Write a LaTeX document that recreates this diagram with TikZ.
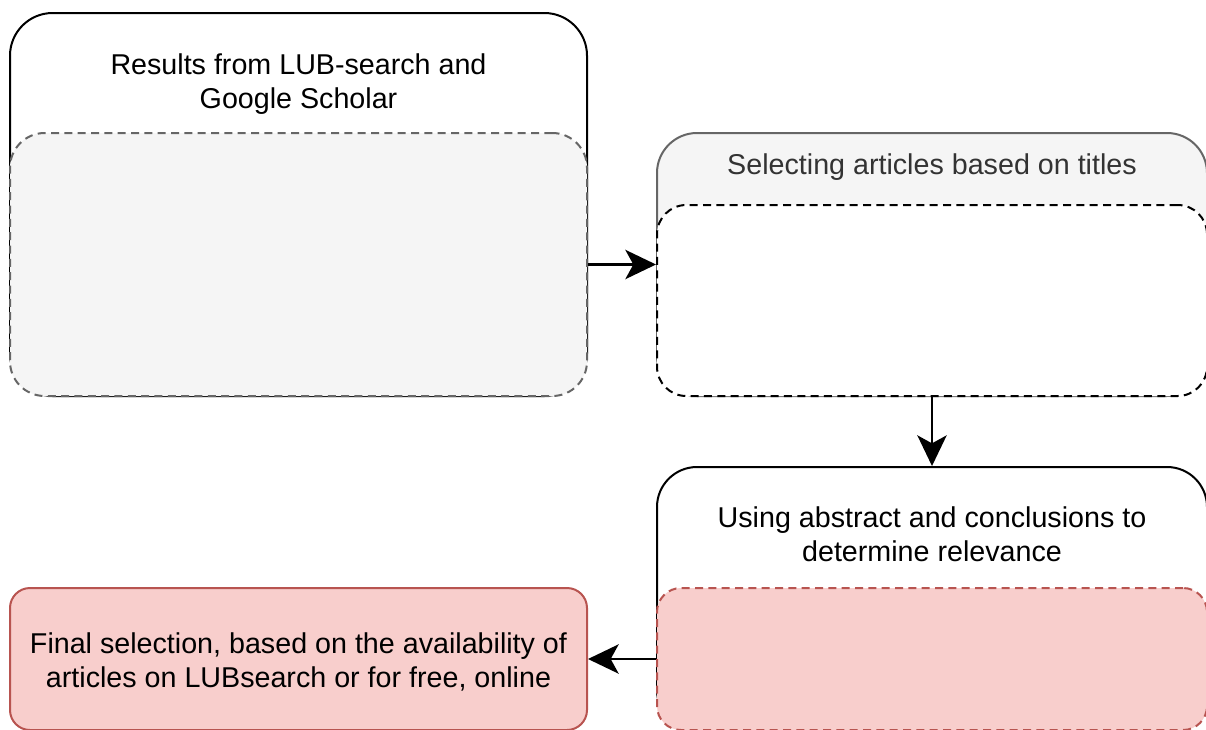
\documentclass[tikz,border=0pt]{standalone}
\usepackage{fontspec}
\setmainfont{Liberation Sans}
\usetikzlibrary{arrows.meta}

\definecolor{paleGray}{HTML}{F5F5F5}
\definecolor{midGray}{HTML}{666666}
\definecolor{darkText}{HTML}{333333}
\definecolor{paleRed}{HTML}{F8CECC}
\definecolor{darkRed}{HTML}{B85450}

\begin{document}
\begin{tikzpicture}[x=0.75pt,y=-0.75pt,
  box/.style={draw,rectangle,line width=1.5pt,inner sep=0pt,fill=white},
  wide/.style={minimum width=432.75pt},
  narrow/.style={minimum width=412.5pt},
  dashedbox/.style={box,dash pattern=on 6pt off 4pt},
  caption/.style={font=\fontsize{21.5}{25.5}\selectfont,align=center},
  flow/.style={line width=1.6pt,-{Stealth[length=23pt,width=22pt,inset=6pt]}}]

% Frame
\useasboundingbox (0,0) rectangle (1206,729);
\clip (0,0) rectangle (1206,729);

% Results from the search engines
\node[box,wide,minimum height=287.25pt,rounded corners=32pt] (results) at (298.5,204.5) {};
\node[caption] (resultsText) at (298.5,84) {Results from LUB-search and\\Google Scholar};
\node[dashedbox,wide,minimum height=197.25pt,rounded corners=26pt,
      draw=midGray,fill=paleGray] (resultsBody) at (298.5,264.5) {};

% Selection on titles
\node[box,narrow,minimum height=197.25pt,rounded corners=30pt,
      draw=midGray,fill=paleGray] (titles) at (932,264.5) {};
\node[caption,text=darkText] (titlesText) at (932,167) {Selecting articles based on titles};
\node[dashedbox,narrow,minimum height=143.25pt,rounded corners=22pt] (titlesBody) at (932,300.5) {};

% Abstracts and conclusions
\node[box,narrow,minimum height=197.25pt,rounded corners=30pt] (abstracts) at (932,598.5) {};
\node[caption] (abstractsText) at (932,534) {Using abstract and conclusions to\\determine relevance};
\node[dashedbox,narrow,minimum height=106.5pt,rounded corners=18pt,
      draw=darkRed,fill=paleRed] (abstractsBody) at (932,659) {};

% Final selection
\node[box,wide,minimum height=106.5pt,rounded corners=15pt,
      draw=darkRed,fill=paleRed] (final) at (298.5,659) {};
\node[caption] (finalText) at (298.5,662) {Final selection, based on the availability of\\articles on LUBsearch or for free, online};

% Arrows
\draw[flow] (resultsBody.east) -- (titles.west);
\draw[flow] (titlesBody.south) -- (abstracts.north);
\draw[flow] (abstractsBody.west) -- (final.east);

\end{tikzpicture}
\end{document}
